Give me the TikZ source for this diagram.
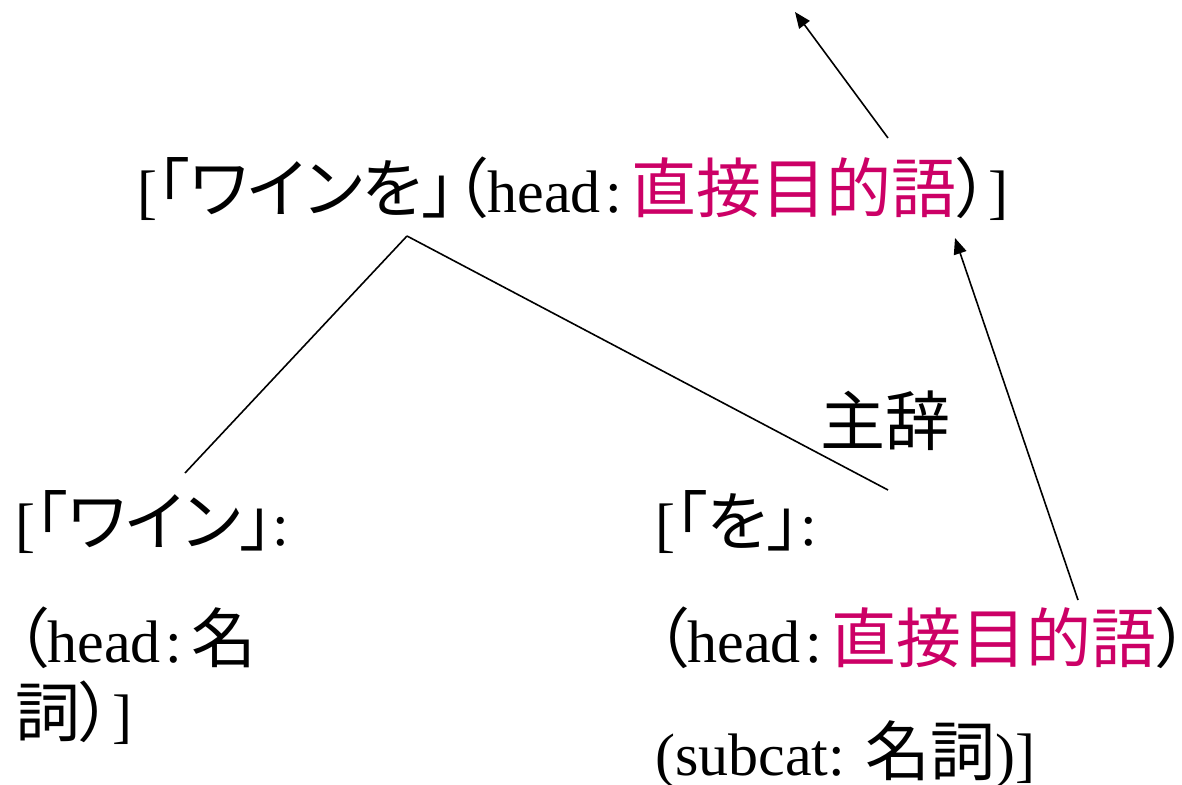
\documentclass[tikz,border=0pt]{standalone}
\usepackage{fontspec}
\setmainfont{Liberation Serif}
\newfontfamily\jp[RawFeature=+palt]{Noto Sans CJK JP}
\newcommand\jpt[1]{{\jp\fontsize{65}{72}\selectfont #1}}
\newcommand\hcolon{\hspace{5pt}:\hspace{9pt}}
\usetikzlibrary{arrows.meta}
\definecolor{mag}{RGB}{204,0,102}
\tikzset{
  txt/.style={anchor=base west, inner sep=0pt, font=\fontsize{60}{72}\selectfont},
  edge/.style={line width=1.6pt},
  arr/.style={line width=1.6pt, -{Triangle[length=16pt,width=13pt]}}
}
\begin{document}
\begin{tikzpicture}[x=1pt,y=-1pt]
\useasboundingbox (0,0) rectangle (1182,784);
\node[txt] (top) at (137,212) {[\jpt{「ワインを」（}head\hcolon\jpt{\color{mag}直接目的語}\jpt{）}]};
\node[txt] (shuji) at (820,445) {\jpt{主辞}};
\node[txt] (l1) at (15,545) {[\jpt{「ワイン」}:};
\node[txt] (l2) at (15,662) {\jpt{（}head\hcolon\jpt{名}};
\node[txt] (l3) at (15,736) {\jpt{詞）}]};
\node[txt] (r1) at (655,545) {[\jpt{「を」}:};
\node[txt] (r2) at (655,662) {\jpt{（}head\hcolon\jpt{\color{mag}直接目的語}\jpt{）}};
\node[txt] (r3) at (655,775) {(subcat: \jpt{名詞})]};
\coordinate (tb) at (407,236);
\coordinate (lt) at (185,473);
\coordinate (rt) at (888,490);
\coordinate (a1s) at (1078,600);
\coordinate (a1e) at (955,238);
\coordinate (a2s) at (888,138);
\coordinate (a2e) at (795,12);
\draw[edge] (tb) -- (lt);
\draw[edge] (tb) -- (rt);
\draw[arr] (a1s) -- (a1e);
\draw[arr] (a2s) -- (a2e);
\end{tikzpicture}
\end{document}
